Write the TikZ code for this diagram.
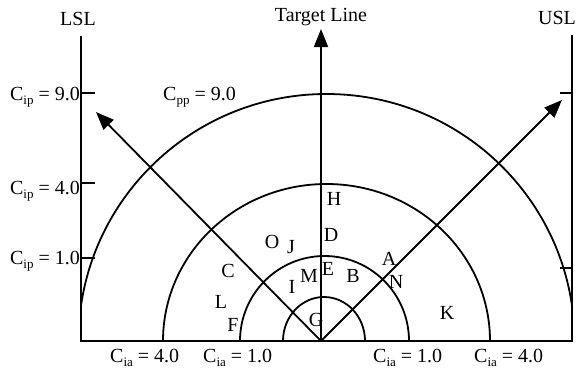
\documentclass[tikz,border=0pt]{standalone}
\usepackage{fontspec}
\setmainfont{Liberation Serif}
\usetikzlibrary{arrows.meta}
\newcommand\mysub[1]{\raisebox{-0.45ex}{\fontsize{13}{13}\selectfont #1}}
\begin{document}
\begin{tikzpicture}[x=1pt,y=-1pt,
  ln/.style={line width=1.8pt},
  arr/.style={line width=1.8pt,-{Triangle[length=18pt,width=14pt]}},
  lbl/.style={font=\fontsize{20}{22}\selectfont, inner sep=0pt},
]
\useasboundingbox (0,0) rectangle (577,370);
% key points
\coordinate (O) at (321,341);
\coordinate (tipL) at (96,112);
\coordinate (tipR) at (562,100);
\coordinate (tipT) at (321,29);
\coordinate (lslTop) at (81,36);
\coordinate (lslBot) at (81,341);
\coordinate (uslTop) at (572,35);
\coordinate (uslBot) at (572,341);
% axes
\draw[ln] (lslTop) -- (lslBot) -- (uslBot) -- (uslTop);
% ticks
\draw[ln] (81,93) -- (95,93);
\draw[ln] (81,183) -- (95,183);
\draw[ln] (81,258) -- (95,258);
\draw[ln] (560,93) -- (572,93);
\draw[ln] (560,268) -- (572,268);
% arcs
\draw[ln] (365,341) arc[start angle=0,end angle=180,x radius=41pt,y radius=44pt];
\draw[ln] (409,341) arc[start angle=0,end angle=180,x radius=84.5pt,y radius=85pt];
\draw[ln] (490,341) arc[start angle=0,end angle=180,x radius=163.5pt,y radius=157pt];
\begin{scope}
\clip (81,0) rectangle (572,341);
\draw[ln] (574.5,341) arc[start angle=0,end angle=180,x radius=248pt,y radius=247pt];
\end{scope}
% arrows
\draw[arr] (O) -- (tipL);
\draw[arr] (O) -- (tipR);
\draw[arr] (O) -- (tipT);
% labels
\node[lbl, anchor=base] (lsl) at (78,25) {LSL};
\node[lbl, anchor=base] (usl) at (557,24) {USL};
\node[lbl, anchor=base] (tl) at (321,21) {Target Line};
\node[lbl, anchor=base east] (cip9) at (80,100) {C\mysub{ip} = 9.0};
\node[lbl, anchor=base west] (cpp9) at (163,100) {C\mysub{pp} = 9.0};
\node[lbl, anchor=base east] (cip4) at (80,194) {C\mysub{ip} = 4.0};
\node[lbl, anchor=base east] (cip1) at (80,264) {C\mysub{ip} = 1.0};
\node[lbl, anchor=base west] (cia4l) at (110,362) {C\mysub{ia} = 4.0};
\node[lbl, anchor=base west] (cia1l) at (203,362) {C\mysub{ia} = 1.0};
\node[lbl, anchor=base west] (cia1r) at (373,362) {C\mysub{ia} = 1.0};
\node[lbl, anchor=base west] (cia4r) at (474,362) {C\mysub{ia} = 4.0};
% region letters
\node[lbl] (H) at (334,199) {H};
\node[lbl] (D) at (331,235) {D};
\node[lbl] (Ol) at (272,242) {O};
\node[lbl] (J) at (291,247) {J};
\node[lbl] (E) at (328,269) {E};
\node[lbl] (M) at (309,276) {M};
\node[lbl] (B) at (353,276) {B};
\node[lbl] (A) at (389,259) {A};
\node[lbl] (N) at (396,282) {N};
\node[lbl] (C) at (228,271) {C};
\node[lbl] (L) at (221,302) {L};
\node[lbl] (I) at (292,287) {I};
\node[lbl] (F) at (233,325) {F};
\node[lbl] (G) at (316,320) {G};
\node[lbl] (K) at (447,313) {K};
\end{tikzpicture}
\end{document}
